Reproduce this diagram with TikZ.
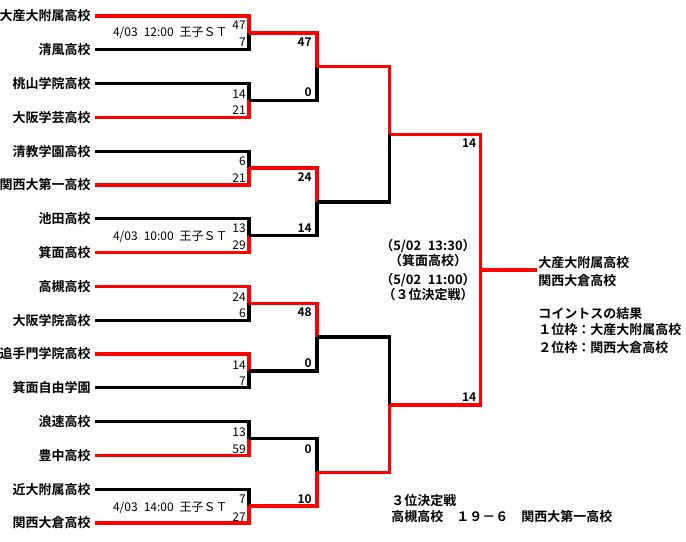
\documentclass[tikz,border=0pt]{standalone}
\usepackage{fontspec}
\setmainfont{Noto Sans CJK JP}[BoldFont={Noto Sans CJK JP Bold}]
\begin{document}
\begin{tikzpicture}[x=0.75pt,y=-0.75pt,
  ln/.style={line width=2.5pt, line join=miter},
  team/.style={anchor=east, inner sep=0pt, font=\fontsize{9.75}{11}\selectfont\bfseries},
  sc/.style={anchor=east, inner sep=0pt, font=\fontsize{9}{10}\selectfont},
  scb/.style={anchor=east, inner sep=0pt, font=\fontsize{9}{10}\selectfont\bfseries},
  info/.style={anchor=east, inner sep=0pt, font=\fontsize{9}{10}\selectfont},
  note/.style={inner sep=0pt, font=\fontsize{9.75}{11}\selectfont\bfseries}]
\useasboundingbox (0,0) rectangle (686,542);
% round-1 junctions
\foreach \j/\y in {1/32.9,2/100.5,3/168.1,4/235.7,5/303.3,6/370.9,7/438.5,8/506.1}
  \coordinate (m\j) at (249,\y);
% round-2 junctions
\foreach \j/\y in {1/66.7,2/201.9,3/337.1,4/472.3}
  \coordinate (n\j) at (317,\y);
% semifinal junctions
\coordinate (s1) at (389.5,134.3);
\coordinate (s2) at (389.5,405);
% final junction and champion end
\coordinate (f) at (480.5,270);
\coordinate (champ) at (537,270);
% teams
\foreach \i/\y/\name/\c in {
  1/16/大産大附属高校/red, 2/49.8/清風高校/black,
  3/83.6/桃山学院高校/black, 4/117.4/大阪学芸高校/red,
  5/151.2/清教学園高校/black, 6/185/関西大第一高校/red,
  7/218.8/池田高校/black, 8/252.6/箕面高校/red,
  9/286.4/高槻高校/red, 10/320.2/大阪学院高校/black,
  11/354/追手門学院高校/red, 12/387.8/箕面自由学園/black,
  13/421.6/浪速高校/black, 14/455.4/豊中高校/red,
  15/489.2/近大附属高校/black, 16/523/関西大倉高校/red}{
  \pgfmathtruncatemacro\j{(\i+1)/2}
  \node[team] (t\i) at (91,\y) {\name};
  \coordinate (a\i) at (95,\y);
  \draw[ln,draw=\c] (a\i) -| (m\j);
}
% round-1 outputs
\foreach \j/\k/\c in {1/1/red,2/1/black,3/2/red,4/2/black,5/3/red,6/3/black,7/4/black,8/4/red}
  \draw[ln,draw=\c] (m\j) -| (n\k);
% round-2 outputs
\draw[ln,draw=red] (n1) -| (s1);
\draw[ln,draw=black] (n2) -| (s1);
\draw[ln,draw=black] (n3) -| (s2);
\draw[ln,draw=red] (n4) -| (s2);
% semifinal outputs
\draw[ln,draw=red] (s1) -| (f);
\draw[ln,draw=red] (s2) -| (f);
\draw[ln,draw=red] (f) -- (champ);
% round-1 scores
\foreach \n/\y/\v in {a/25/47,b/42/7,c/94/14,d/110/21,e/161.7/6,g/177.7/21,h/228.3/13,i/245.7/29,
  j/296.7/24,k/313.3/6,l/365/14,m/381/7,o/432.3/13,p/449.3/59,q/499/7,r/516.7/27}
  \node[sc] (r1\n) at (246,\y) {\v};
% round-2 scores
\foreach \n/\y/\v in {a/41.7/47,b/91.7/0,c/176.7/24,d/228.3/14,e/312.3/48,g/362.7/0,h/449.3/0,i/499.3/10}
  \node[scb] (r2\n) at (312,\y) {\v};
% final scores
\node[scb] (fsa) at (476.5,142.7) {14};
\node[scb] (fsb) at (476.5,397.3) {14};
% match info
\node[info] (inf1) at (228,33) {4/03\enspace 12:00\enspace 王子ＳＴ};
\node[info] (inf2) at (228,236.5) {4/03\enspace 10:00\enspace 王子ＳＴ};
\node[info] (inf3) at (228,508) {4/03\enspace 14:00\enspace 王子ＳＴ};
% middle notes
\node[note] (mid1) at (428,246) {（5/02\enspace 13:30）};
\node[note] (mid2) at (428,261) {（箕面高校）};
\node[note] (mid3) at (428,280) {（5/02\enspace 11:00）};
\node[note] (mid4) at (428,295) {（３位決定戦）};
% right notes
\node[note,anchor=west] (w1) at (538,262.7) {大産大附属高校};
\node[note,anchor=west] (w2) at (538,280.3) {関西大倉高校};
\node[note,anchor=west] (c1) at (538,313.3) {コイントスの結果};
\node[note,anchor=west] (c2) at (538,330) {１位枠：大産大附属高校};
\node[note,anchor=west] (c3) at (538,347.3) {２位枠：関西大倉高校};
% bottom notes
\node[note,anchor=west] (b1) at (391,501) {３位決定戦};
\node[note,anchor=west] (b2) at (391,517) {高槻高校　１９－６　関西大第一高校};
\end{tikzpicture}
\end{document}
